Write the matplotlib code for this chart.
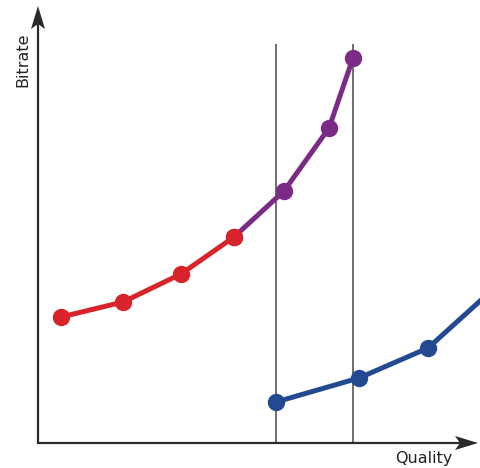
import matplotlib.pyplot as plt
from matplotlib.patches import Polygon

# chart coordinates (x = quality, y = bitrate), measured on a 481x468 canvas
red_x = [61, 123, 181, 234]
red_y = [151, 166, 194, 231]
purple_x = [234, 284, 329, 353]
purple_y = [231, 277, 340, 410]
blue_x = [276, 359, 428, 490]
blue_y = [66, 90, 120, 176]
cut_x = [276, 353]  # vertical markers
cut_top = 423

fig = plt.figure(figsize=(4.81, 4.68), dpi=100)
ax = fig.add_axes([0, 0, 1, 1])
ax.set_xlim(0, 481)
ax.set_ylim(0, 468)
ax.axis('off')

axis_col = '#2a2a2a'

# vertical cut lines
for cx in cut_x:
    ax.plot([cx, cx], [25, cut_top], color='#6e6e6e', lw=1.4, zorder=1)

# axis lines
ax.plot([38, 38], [24, 448], color=axis_col, lw=1.6, solid_capstyle='butt')
ax.plot([37, 462], [25, 25], color=axis_col, lw=1.6, solid_capstyle='butt')
# concave arrow heads
ax.add_patch(Polygon([(38, 462), (45, 439), (38, 444), (31, 439)], closed=True,
                     color=axis_col, lw=0))
ax.add_patch(Polygon([(478, 25), (455, 32), (460, 25), (455, 18)], closed=True,
                     color=axis_col, lw=0))

ax.text(23, 408, 'Bitrate', rotation=90, ha='center', va='center', fontsize=11.5, color='#222222')
ax.text(424, 9, 'Quality', ha='center', va='center', fontsize=11.5, color='#222222')

# curves
ax.plot(purple_x, purple_y, color='#7b2a86', lw=3.6, marker='o', ms=11.5, zorder=3)
ax.plot(red_x, red_y, color='#d8232a', lw=3.6, marker='o', ms=11.5, zorder=4)
ax.plot(blue_x, blue_y, color='#234a90', lw=3.6, marker='o', ms=11.5, zorder=3)

fig.savefig('out.png', dpi=100)
